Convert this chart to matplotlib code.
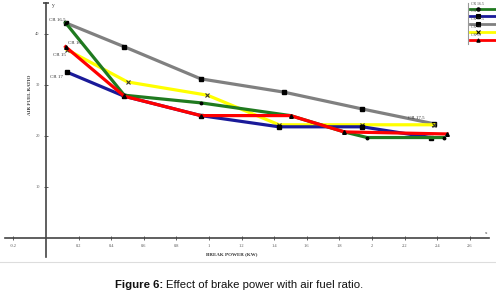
import matplotlib
matplotlib.use("Agg")
import matplotlib.pyplot as plt

# ---- data ----
grey_x = [0.12, 0.48, 0.95, 1.46, 1.94, 2.38]
grey_y = [42.2, 37.5, 31.2, 28.6, 25.3, 22.4]
yellow_x = [0.13, 0.50, 0.99, 1.43, 1.94, 2.38]
yellow_y = [36.9, 30.6, 28.0, 22.2, 22.2, 22.2]
green_x = [0.12, 0.48, 0.95, 1.50, 1.83, 1.97, 2.44]
green_y = [42.2, 28.0, 26.5, 24.0, 20.8, 19.7, 19.7]
blue_x = [0.13, 0.48, 0.95, 1.43, 1.94, 2.36]
blue_y = [32.5, 27.8, 24.0, 21.8, 21.8, 19.7]
red_x = [0.12, 0.48, 0.95, 1.50, 1.83, 2.46]
red_y = [37.5, 27.8, 24.0, 24.0, 20.8, 20.4]

x_ticks = [-0.2, 0.2, 0.4, 0.6, 0.8, 1.0, 1.2, 1.4, 1.6, 1.8, 2.0, 2.2, 2.4, 2.6]
x_tick_labels = ["-0.2", "0.2", "0.4", "0.6", "0.8", "1", "1.2", "1.4", "1.6", "1.8", "2", "2.2", "2.4", "2.6"]
y_ticks = [10, 20, 30, 40]
y_tick_labels = ["10", "20", "30", "40"]

legend_labels = ["CR 16.5", "CR 17", "CR 17.5", "CR 16", "CR 15"]

W, H = 496, 297
fig = plt.figure(figsize=(W / 100, H / 100), dpi=100)

# axes geometry (pixel based)
ax_top_px, ax_bot_px = 0, 262
ax = fig.add_axes([0, 1 - ax_bot_px / H, 1, (ax_bot_px - ax_top_px) / H])
x0_px, xs = 46, 163.0
y0_px, ys = 238, 5.1
ax.set_xlim(-x0_px / xs, (W - x0_px) / xs)
ax.set_ylim((y0_px - ax_bot_px) / ys, (y0_px - ax_top_px) / ys)
ax.patch.set_alpha(0)

axis_col = "#444444"
for s in ["top", "right"]:
    ax.spines[s].set_visible(False)
ax.spines["left"].set_position(("data", 0))
ax.spines["bottom"].set_position(("data", 0))
ax.spines["left"].set_bounds(-3.7, 46.1)
ax.spines["bottom"].set_bounds(-0.25, 2.72)
for s in ["left", "bottom"]:
    ax.spines[s].set_color(axis_col)
    ax.spines[s].set_linewidth(1.2)

serif = "Liberation Serif"
ax.set_xticks(x_ticks)
ax.set_xticklabels(x_tick_labels, fontsize=3.2, family=serif, color="#555555")
ax.set_yticks(y_ticks)
ax.set_yticklabels(y_tick_labels, fontsize=3.2, family=serif, color="#555555")
ax.tick_params(axis="both", direction="inout", length=3, width=0.6, colors=axis_col, pad=3)
ax.tick_params(axis="x", labelcolor="#555555")
ax.tick_params(axis="y", labelcolor="#555555")

# arrow-ish cap on y axis
ax.plot([0], [46.1], marker="_", color=axis_col, markersize=4, mew=1.2, clip_on=False)
ax.text(0.035, 45.6, "y", fontsize=4, family=serif, color="#333333", va="center")
ax.text(2.69, 1.0, "x", fontsize=3.5, family=serif, color="#333333", va="center")

lw = 2.3
ax.plot(grey_x, grey_y, color="#808080", lw=lw, marker="s", ms=3.2, mfc="black", mec="black", zorder=3)
ax.plot(yellow_x, yellow_y, color="#ffff00", lw=lw, marker="x", ms=3.2, mec="#333333", mew=0.8, zorder=3)
ax.plot(blue_x, blue_y, color="#1a1a99", lw=lw, marker="s", ms=2.2, mfc="black", mec="black", zorder=3)
ax.plot(green_x, green_y, color="#1f7a1f", lw=lw, marker="o", ms=1.8, mfc="black", mec="black", zorder=4)
ax.plot(red_x, red_y, color="#ff0000", lw=lw, marker="^", ms=2.6, mfc="black", mec="black", zorder=5)

# point annotations
lab_kw = dict(fontsize=3.6, family=serif, color="#333333", va="center")
ax.text(0.018, 42.7, "CR 16.5", **lab_kw)
ax.text(0.135, 38.2, "CR 16", zorder=6, **lab_kw)
ax.text(0.043, 35.9, "CR 15", **lab_kw)
ax.text(0.025, 31.6, "CR 17", **lab_kw)
ax.text(2.22, 23.6, "CR 17.5", **lab_kw)

# axis titles
ax.text(-0.098, 28, "AIR FUEL RATIO", rotation=90, fontsize=3.6, family=serif,
        fontweight="bold", color="#333333", ha="center", va="center")
ax.text(1.14, -3.1, "BREAK POWER (KW)", fontsize=3.6, family=serif,
        fontweight="bold", color="#333333", ha="center", va="center")

# legend (drawn by hand, partly cut off at right edge)
leg_cols = ["#1f7a1f", "#1a1a99", "#808080", "#ffff00", "#ff0000"]
leg_marks = ["o", "s", "s", "x", "^"]
leg_line_px = [9, 16, 24, 32, 40]
lx0 = (468 - x0_px) / xs
lx1 = (W + 5 - x0_px) / xs
ax.plot([lx0, lx0], [(y0_px - 3) / ys, (y0_px - 44) / ys], color="#999999", lw=0.8, clip_on=False)
for lab, c, m, py in zip(legend_labels, leg_cols, leg_marks, leg_line_px):
    yl = (y0_px - py) / ys
    ax.plot([lx0 + 0.01, lx1], [yl, yl], color=c, lw=2.0, clip_on=False)
    ax.plot([(478 - x0_px) / xs], [yl], marker=m, color="black", ms=2.4, mew=0.8, clip_on=False)
    ax.text(lx0 + 0.02, (y0_px - py + 4.5) / ys, lab, fontsize=2.8, family=serif,
            color="#444444", va="center")

# separator line
fig.add_artist(plt.Line2D([0, 1], [1 - 262 / H, 1 - 262 / H], color="#dddddd", lw=0.8))

# caption
cap_y = 1 - 285 / H
fig.text(163 / W, cap_y, "Figure 6:", fontsize=8.2, family="Liberation Sans",
         fontweight="bold", ha="right", va="center", color="#111111")
fig.text(166 / W, cap_y, "Effect of brake power with air fuel ratio.", fontsize=8.2,
         family="Liberation Sans", ha="left", va="center", color="#111111")

fig.savefig("out.png", dpi=100)
